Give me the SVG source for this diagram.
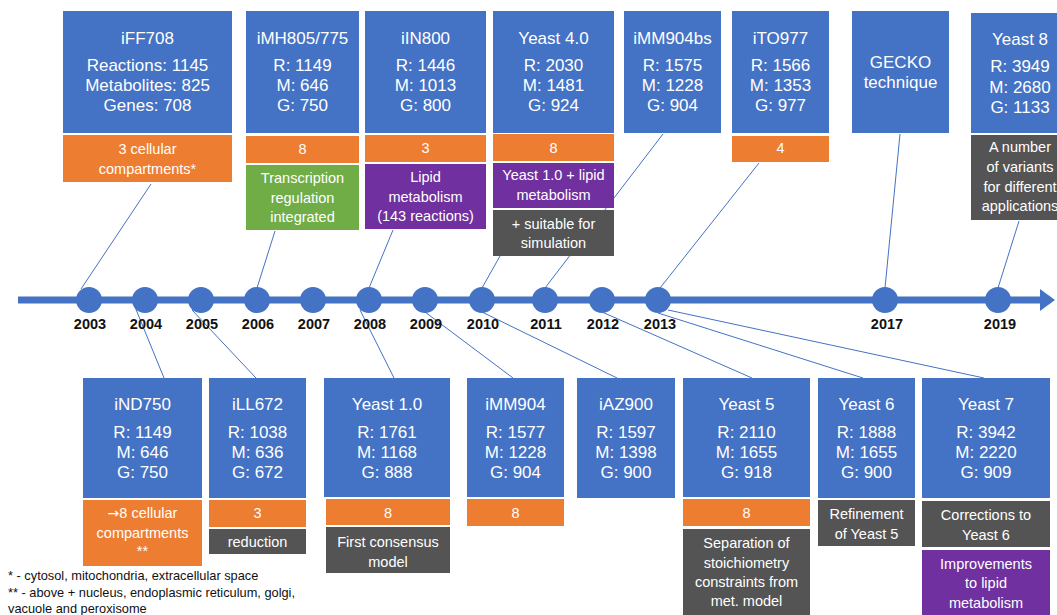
<svg xmlns="http://www.w3.org/2000/svg" width="1057" height="615" viewBox="0 0 1057 615">
<style>
.b{fill:#4472C4}
.o{fill:#ED7D31}
.g{fill:#70AD47}
.p{fill:#7030A0}
.d{fill:#545454}
text{font-family:"Liberation Sans",Arial,sans-serif;fill:#fff;text-anchor:middle}
.t{font-size:17px}
.s{font-size:14.5px}
.y{font-size:14.5px;font-weight:bold;fill:#111}
.f{font-size:12.8px;fill:#111;text-anchor:start}
.c{stroke:#4472C4;stroke-width:1;fill:none}
.ar{font-family:"DejaVu Sans",sans-serif;font-size:14px}
</style>
<rect width="1057" height="615" fill="#fff"/>
<g id="connectors">
<line class="c" x1="151" y1="184" x2="81" y2="289"/>
<line class="c" x1="275" y1="231" x2="257" y2="288"/>
<line class="c" x1="393" y1="230" x2="369" y2="288"/>
<line class="c" x1="500" y1="256" x2="482" y2="288"/>
<line class="c" x1="663" y1="134" x2="545" y2="288"/>
<line class="c" x1="759" y1="163" x2="660" y2="288"/>
<line class="c" x1="900" y1="134" x2="885" y2="288"/>
<line class="c" x1="1019" y1="221" x2="998" y2="288"/>
<line class="c" x1="135" y1="307" x2="164" y2="378"/>
<line class="c" x1="192" y1="310" x2="256" y2="378"/>
<line class="c" x1="360" y1="310" x2="394" y2="378"/>
<line class="c" x1="425" y1="312" x2="513" y2="378"/>
<line class="c" x1="482" y1="312" x2="617" y2="378"/>
<line class="c" x1="602" y1="312" x2="752" y2="378"/>
<line class="c" x1="658" y1="313" x2="863" y2="378"/>
<line class="c" x1="668" y1="310" x2="984" y2="378"/>
</g>
<g id="timeline">
<line x1="18" y1="300" x2="1042" y2="300" stroke="#4472C4" stroke-width="7"/>
<polygon points="1040,289 1055,300 1040,311" fill="#4472C4"/>
<g class="b">
<circle cx="89" cy="300" r="13"/><circle cx="145" cy="300" r="13"/><circle cx="201" cy="300" r="13"/><circle cx="257" cy="300" r="13"/><circle cx="313" cy="300" r="13"/><circle cx="369" cy="300" r="13"/><circle cx="425" cy="300" r="13"/><circle cx="482" cy="300" r="13"/><circle cx="545" cy="300" r="13"/><circle cx="602" cy="300" r="13"/><circle cx="658" cy="300" r="13"/><circle cx="885" cy="300" r="13"/><circle cx="998" cy="300" r="13"/>
</g>
<text class="y" x="90" y="329">2003</text><text class="y" x="146" y="329">2004</text><text class="y" x="202" y="329">2005</text><text class="y" x="258" y="329">2006</text><text class="y" x="314" y="329">2007</text><text class="y" x="370" y="329">2008</text><text class="y" x="426" y="329">2009</text><text class="y" x="483" y="329">2010</text><text class="y" x="546" y="329">2011</text><text class="y" x="603" y="329">2012</text><text class="y" x="660" y="329">2013</text><text class="y" x="887" y="329">2017</text><text class="y" x="1000" y="329">2019</text>
</g>
<g id="iFF708">
<rect class="b" x="63" y="11" width="169" height="122"/>
<text class="t" x="147.5" y="44">iFF708</text>
<text class="t" x="147.5" y="71">Reactions: 1145</text><text class="t" x="147.5" y="91">Metabolites: 825</text><text class="t" x="147.5" y="111">Genes: 708</text>
<rect class="o" x="63" y="135" width="169" height="47"/>
<text class="s" x="147.5" y="154">3 cellular</text><text class="s" x="147.5" y="174">compartments*</text>
</g>
<g id="iMH805">
<rect class="b" x="246" y="11" width="113" height="122"/>
<text class="t" x="302.5" y="44">iMH805/775</text>
<text class="t" x="302.5" y="71">R: 1149</text><text class="t" x="302.5" y="91">M: 646</text><text class="t" x="302.5" y="111">G: 750</text>
<rect class="o" x="246" y="136" width="113" height="27"/>
<text class="s" x="302.5" y="154">8</text>
<rect class="g" x="246" y="165" width="113" height="65"/>
<text class="s" x="302.5" y="183">Transcription</text><text class="s" x="302.5" y="202.5">regulation</text><text class="s" x="302.5" y="222">integrated</text>
</g>
<g id="iIN800">
<rect class="b" x="365" y="11" width="121" height="122"/>
<text class="t" x="425.5" y="44">iIN800</text>
<text class="t" x="425.5" y="71">R: 1446</text><text class="t" x="425.5" y="91">M: 1013</text><text class="t" x="425.5" y="111">G: 800</text>
<rect class="o" x="365" y="135" width="121" height="27"/>
<text class="s" x="425.5" y="153">3</text>
<rect class="p" x="365" y="164" width="121" height="65"/>
<text class="s" x="425.5" y="182">Lipid</text><text class="s" x="425.5" y="202">metabolism</text><text class="s" x="425.5" y="221">(143 reactions)</text>
</g>
<g id="Yeast4">
<rect class="b" x="493" y="11" width="121" height="122"/>
<text class="t" x="553.5" y="44">Yeast 4.0</text>
<text class="t" x="553.5" y="71">R: 2030</text><text class="t" x="553.5" y="91">M: 1481</text><text class="t" x="553.5" y="111">G: 924</text>
<rect class="o" x="493" y="134" width="121" height="27"/>
<text class="s" x="553.5" y="153">8</text>
<rect class="p" x="493" y="163" width="121" height="45"/>
<text class="s" x="553.5" y="180">Yeast 1.0 + lipid</text><text class="s" x="553.5" y="200">metabolism</text>
<rect class="d" x="493" y="210" width="121" height="46"/>
<text class="s" x="553.5" y="229">+ suitable for</text><text class="s" x="553.5" y="248">simulation</text>
</g>
<g id="iMM904bs">
<rect class="b" x="624" y="11" width="97" height="122"/>
<text class="t" x="672.5" y="44">iMM904bs</text>
<text class="t" x="672.5" y="71">R: 1575</text><text class="t" x="672.5" y="91">M: 1228</text><text class="t" x="672.5" y="111">G: 904</text>
</g>
<g id="iTO977">
<rect class="b" x="732" y="11" width="97" height="122"/>
<text class="t" x="780.5" y="44">iTO977</text>
<text class="t" x="780.5" y="71">R: 1566</text><text class="t" x="780.5" y="91">M: 1353</text><text class="t" x="780.5" y="111">G: 977</text>
<rect class="o" x="732" y="136" width="97" height="26"/>
<text class="s" x="780.5" y="153">4</text>
</g>
<g id="GECKO">
<rect class="b" x="852" y="11" width="97" height="122"/>
<text class="t" x="900.5" y="68">GECKO</text><text class="t" x="900.5" y="88">technique</text>
</g>
<g id="Yeast8">
<rect class="b" x="971" y="13" width="98" height="120"/>
<text class="t" x="1020" y="45">Yeast 8</text>
<text class="t" x="1020" y="72">R: 3949</text><text class="t" x="1020" y="93">M: 2680</text><text class="t" x="1020" y="113">G: 1133</text>
<rect class="d" x="971" y="135" width="98" height="85"/>
<text class="s" x="1020" y="152">A number</text><text class="s" x="1020" y="172">of variants</text><text class="s" x="1020" y="192">for different</text><text class="s" x="1020" y="211">applications</text>
</g>
<g id="iND750">
<rect class="b" x="83" y="378" width="119" height="120"/>
<text class="t" x="142.5" y="410">iND750</text>
<text class="t" x="142.5" y="438">R: 1149</text><text class="t" x="142.5" y="458">M: 646</text><text class="t" x="142.5" y="478">G: 750</text>
<rect class="o" x="83" y="500" width="119" height="66"/>
<text class="s" x="142.5" y="518"><tspan class="ar">→</tspan>8 cellular</text><text class="s" x="142.5" y="538">compartments</text><text class="s" x="142.5" y="556">**</text>
</g>
<g id="iLL672">
<rect class="b" x="209" y="378" width="97" height="120"/>
<text class="t" x="257.5" y="410">iLL672</text>
<text class="t" x="257.5" y="438">R: 1038</text><text class="t" x="257.5" y="458">M: 636</text><text class="t" x="257.5" y="478">G: 672</text>
<rect class="o" x="209" y="500" width="97" height="27"/>
<text class="s" x="257.5" y="518">3</text>
<rect class="d" x="209" y="529" width="97" height="25"/>
<text class="s" x="257.5" y="547">reduction</text>
</g>
<g id="Yeast1">
<rect class="b" x="324" y="378" width="126" height="119"/>
<text class="t" x="387" y="410">Yeast 1.0</text>
<text class="t" x="387" y="438">R: 1761</text><text class="t" x="387" y="458">M: 1168</text><text class="t" x="387" y="478">G: 888</text>
<rect class="o" x="326" y="499" width="124" height="26"/>
<text class="s" x="388" y="518">8</text>
<rect class="d" x="326" y="527" width="124" height="46"/>
<text class="s" x="388" y="547">First consensus</text><text class="s" x="388" y="567">model</text>
</g>
<g id="iMM904">
<rect class="b" x="467" y="378" width="97" height="119"/>
<text class="t" x="515.5" y="410">iMM904</text>
<text class="t" x="515.5" y="438">R: 1577</text><text class="t" x="515.5" y="458">M: 1228</text><text class="t" x="515.5" y="478">G: 904</text>
<rect class="o" x="467" y="499" width="97" height="27"/>
<text class="s" x="515.5" y="518">8</text>
</g>
<g id="iAZ900">
<rect class="b" x="577" y="378" width="98" height="120"/>
<text class="t" x="626" y="410">iAZ900</text>
<text class="t" x="626" y="438">R: 1597</text><text class="t" x="626" y="458">M: 1398</text><text class="t" x="626" y="478">G: 900</text>
</g>
<g id="Yeast5">
<rect class="b" x="683" y="378" width="127" height="119"/>
<text class="t" x="746.5" y="410">Yeast 5</text>
<text class="t" x="746.5" y="438">R: 2110</text><text class="t" x="746.5" y="458">M: 1655</text><text class="t" x="746.5" y="478">G: 918</text>
<rect class="o" x="683" y="499" width="127" height="27"/>
<text class="s" x="746.5" y="518">8</text>
<rect class="d" x="683" y="529" width="127" height="86"/>
<text class="s" x="746.5" y="548">Separation of</text><text class="s" x="746.5" y="567.5">stoichiometry</text><text class="s" x="746.5" y="587">constraints from</text><text class="s" x="746.5" y="606">met. model</text>
</g>
<g id="Yeast6">
<rect class="b" x="818" y="378" width="97" height="120"/>
<text class="t" x="866.5" y="410">Yeast 6</text>
<text class="t" x="866.5" y="438">R: 1888</text><text class="t" x="866.5" y="458">M: 1655</text><text class="t" x="866.5" y="478">G: 900</text>
<rect class="d" x="818" y="500" width="97" height="46"/>
<text class="s" x="866.5" y="519">Refinement</text><text class="s" x="866.5" y="539">of Yeast 5</text>
</g>
<g id="Yeast7">
<rect class="b" x="922" y="378" width="128" height="120"/>
<text class="t" x="986" y="410">Yeast 7</text>
<text class="t" x="986" y="438">R: 3942</text><text class="t" x="986" y="458">M: 2220</text><text class="t" x="986" y="478">G: 909</text>
<rect class="d" x="922" y="501" width="128" height="46"/>
<text class="s" x="986" y="520">Corrections to</text><text class="s" x="986" y="540">Yeast 6</text>
<rect class="p" x="922" y="550" width="128" height="65"/>
<text class="s" x="986" y="569">Improvements</text><text class="s" x="986" y="588">to lipid</text><text class="s" x="986" y="608">metabolism</text>
</g>
<g id="footnotes">
<text class="f" x="8" y="580">* - cytosol, mitochondria, extracellular space</text>
<text class="f" x="8" y="597">** - above + nucleus, endoplasmic reticulum, golgi,</text>
<text class="f" x="8" y="613">vacuole and peroxisome</text>
</g>
</svg>
